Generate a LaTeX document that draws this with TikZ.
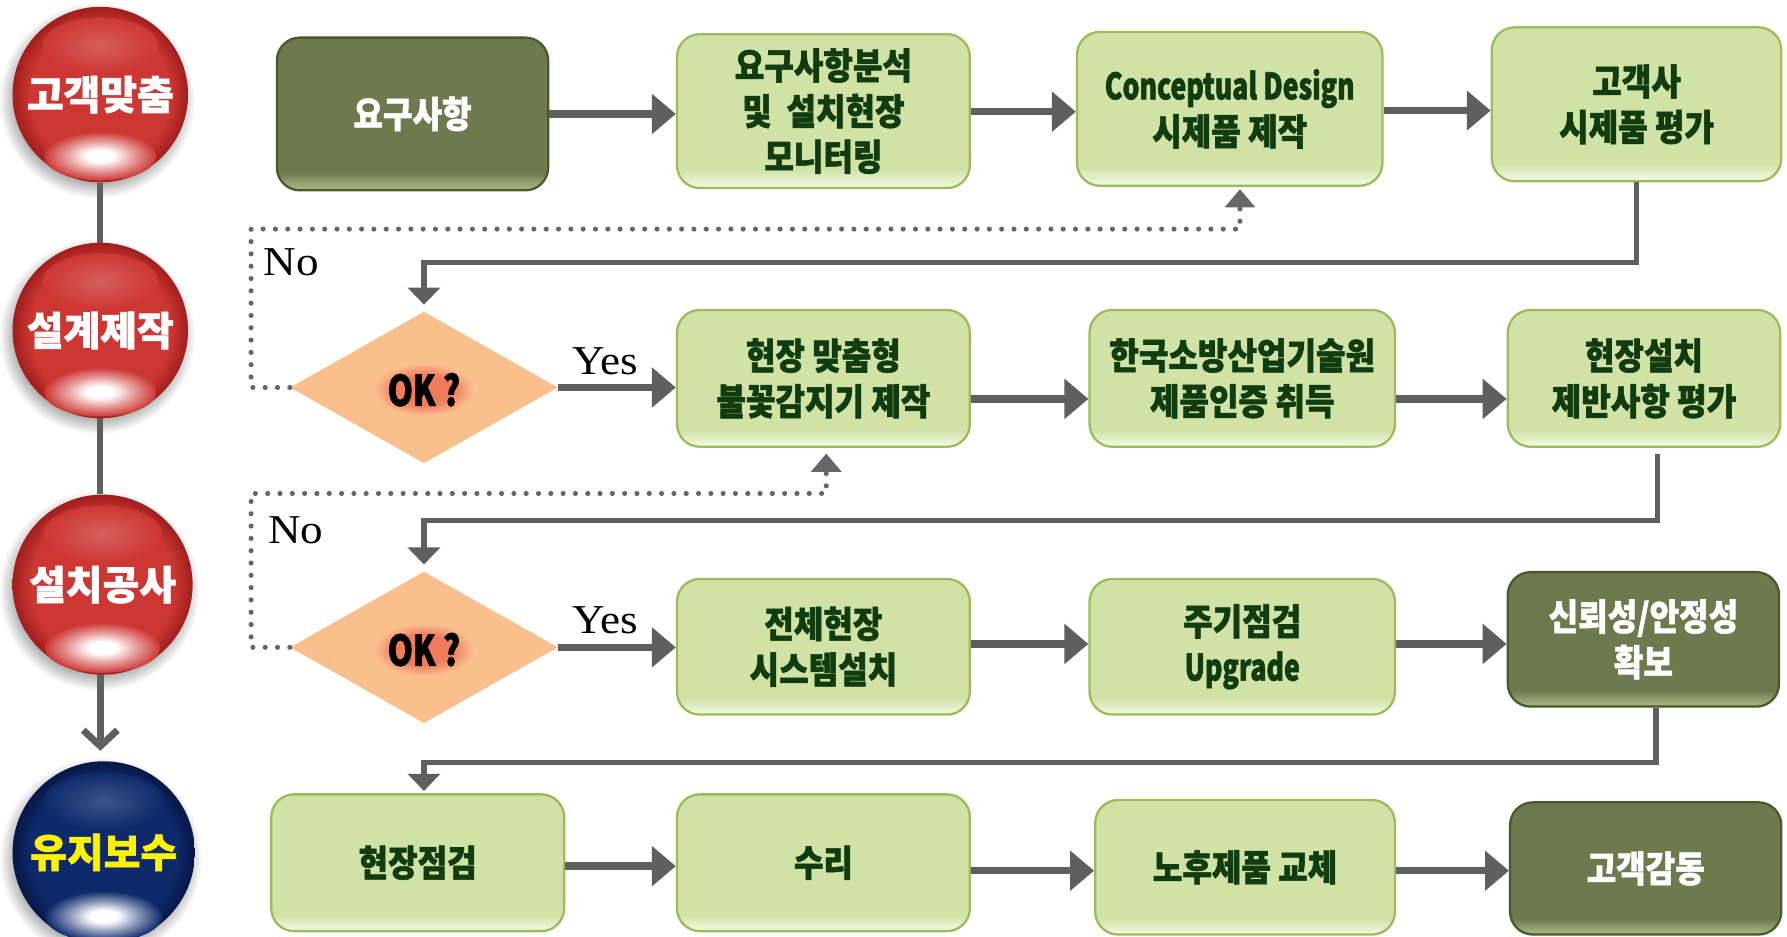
\documentclass[tikz,border=0pt]{standalone}
\usepackage{fontspec}
\usetikzlibrary{arrows.meta,shapes.geometric,calc}
\setmainfont{Liberation Serif}
\newfontfamily\ynfont{Liberation Serif}[FakeStretch=1.1]
\newfontfamily\krfont{Noto Sans CJK KR}[FakeStretch=0.88, BoldFeatures={FakeBold=1.5}]
\newfontfamily\ltfont{Noto Sans CJK KR}[FakeStretch=0.73, BoldFeatures={FakeBold=1.5}]
\newfontfamily\krwide{Noto Sans CJK KR}[BoldFeatures={FakeBold=1.5}]
\newfontfamily\okfont{Noto Sans CJK KR}[FakeStretch=0.76, BoldFeatures={FakeBold=1.5}]

\definecolor{lgM}{HTML}{D0E2A6}
\definecolor{lgB}{HTML}{EEF6DC}
\definecolor{lgE}{HTML}{9CBB5A}
\definecolor{dgM}{HTML}{6D7A4E}
\definecolor{dgB}{HTML}{A3B07D}
\definecolor{dgE}{HTML}{4C572D}
\definecolor{txtG}{HTML}{103C10}
\definecolor{arrG}{HTML}{5F5F5F}
\definecolor{dotG}{HTML}{666666}
\definecolor{peach}{HTML}{F9C08E}
\definecolor{glowS}{HTML}{EF7A5C}
\definecolor{redM}{HTML}{CD3733}
\definecolor{redD}{HTML}{A01E1C}
\definecolor{bluM}{HTML}{0E2A6C}
\definecolor{bluD}{HTML}{071746}

% note: TikZ maps a path's bounding box onto the central 50bp of a 100bp shading
\pgfdeclareverticalshading{lgshade}{100bp}{color(0bp)=(lgB); color(26bp)=(lgB); color(31bp)=(lgM); color(100bp)=(lgM)}
\pgfdeclareverticalshading{dgshade}{100bp}{color(0bp)=(dgB); color(26bp)=(dgB); color(31bp)=(dgM); color(100bp)=(dgM)}
\pgfdeclareradialshading{redball}{\pgfpointorigin}{color(0bp)=(redM); color(20bp)=(redM); color(25bp)=(redD); color(50bp)=(redD)}
\pgfdeclareradialshading{bluball}{\pgfpointorigin}{color(0bp)=(bluM); color(20bp)=(bluM); color(25bp)=(bluD); color(50bp)=(bluD)}
\pgfdeclareradialshading{redglow}{\pgfpointorigin}{color(0bp)=(white); color(6bp)=(white); color(15bp)=(redM!50!white); color(25bp)=(redM); color(50bp)=(redM)}
\pgfdeclareradialshading{bluglow}{\pgfpointorigin}{color(0bp)=(white); color(6bp)=(white); color(15bp)=(bluM!50!white); color(25bp)=(bluM); color(50bp)=(bluM)}
\pgfdeclareradialshading{redtop}{\pgfpointorigin}{color(0bp)=(redM!80!white); color(25bp)=(redM); color(50bp)=(redM)}
\pgfdeclareradialshading{blutop}{\pgfpointorigin}{color(0bp)=(bluM!80!white); color(25bp)=(bluM); color(50bp)=(bluM)}
\pgfdeclareradialshading{ballshadow}{\pgfpointorigin}{color(0bp)=(black!30); color(21bp)=(black!30); color(25bp)=(white); color(50bp)=(white)}
\pgfdeclareradialshading{okglow}{\pgfpointorigin}{color(0bp)=(glowS); color(14bp)=(glowS); color(25bp)=(peach); color(50bp)=(peach)}

\tikzset{
  lbox/.style={rectangle, rounded corners=20pt, draw=lgE, line width=2pt, shading=lgshade,
    text=txtG, font=\krfont\bfseries\fontsize{32}{40}\selectfont, align=center, inner sep=0pt},
  dbox/.style={rectangle, rounded corners=20pt, draw=dgE, line width=2pt, shading=dgshade,
    text=white, font=\krfont\bfseries\fontsize{32}{40}\selectfont, align=center, inner sep=0pt},
  arr/.style={draw=arrG, line width=6.5pt, -{Triangle[length=21pt,width=34pt]}},
  fb/.style={draw=arrG, line width=4.5pt, -{Triangle[length=15pt,width=28pt]}},
  dotln/.style={draw=dotG, line width=4.5pt, line cap=round, dash pattern=on 0pt off 10.8pt,
    -{Triangle[length=16pt,width=26pt]}},
  decide/.style={diamond, fill=peach, minimum width=235pt, minimum height=133pt, inner sep=0pt},
  oktxt/.style={font=\okfont\bfseries\fontsize{37}{37}\selectfont, inner sep=0pt, text=black},
  yn/.style={font=\ynfont\fontsize{36}{36}\selectfont, anchor=base west, inner sep=0pt},
  balltxt/.style={font=\krwide\bfseries\fontsize{35}{35}\selectfont, inner sep=0pt},
  stem/.style={draw=arrG, line width=5pt},
}

\newcommand\drawballshadow[2]{% node, radius
  \shade[shading=ballshadow] ($(#1.center)+(-3,5)$) circle (#2+9);
}
\newcommand\drawballbody[3]{% node, colour key, radius
  \shade[shading=#2ball] (#1.center) circle (#3);
  \shade[shading=#2top] ($(#1.center)+(0,-#3*0.56)$) ellipse (#3*0.66 and #3*0.32);
  \shade[shading=#2glow] ($(#1.center)+(0,#3*0.7)$) ellipse (#3*0.64 and #3*0.28);
}

\begin{document}
\begin{tikzpicture}[x=1pt,y=-1pt]
\useasboundingbox (0,0) rectangle (1568,822);

% ---------- stage balls ----------
\node[circle, minimum size=154pt, inner sep=0pt] (c1) at (88,83) {};
\node[circle, minimum size=154pt, inner sep=0pt] (c2) at (88,290) {};
\node[circle, minimum size=158pt, inner sep=0pt] (c3) at (90,513) {};
\node[circle, minimum size=160pt, inner sep=0pt] (c4) at (91,748) {};

\drawballshadow{c1}{77}
\drawballshadow{c2}{77}
\drawballshadow{c3}{79}
\drawballshadow{c4}{80}

\draw[stem] (c1.south) -- (c1.south |- c2.north);
\draw[stem] (c2.south) -- (c2.south |- c3.north);
\draw[draw=arrG, line width=6pt, line cap=round, line join=round,
      -{Straight Barb[length=14pt,width=30pt]}, shorten >=9pt]
      (c3.south -| c2.south) -- (c2.south |- c4.north);

\drawballbody{c1}{red}{77}
\drawballbody{c2}{red}{77}
\drawballbody{c3}{red}{79}
\drawballbody{c4}{blu}{80}

\node[balltxt, text=white] (t1) at (c1.center) {고객맞춤};
\node[balltxt, text=white] (t2) at (c2.center) {설계제작};
\node[balltxt, text=white] (t3) at (c3.center) {설치공사};
\node[balltxt, text=yellow] (t4) at (c4.center) {유지보수};

% ---------- row 1 ----------
\node[dbox, minimum width=238pt, minimum height=134pt] (r1a) at (362,100) {요구사항};
\node[lbox, minimum width=257pt, minimum height=135pt] (r1b) at (722.5,97.5) {요구사항분석\\및 \ 설치현장\\모니터링};
\node[lbox, minimum width=268pt, minimum height=135pt] (r1c) at (1079,95.5) {{\ltfont Conceptual Design}\\시제품 제작};
\node[lbox, minimum width=254pt, minimum height=135pt] (r1d) at (1436,91.5) {고객사\\시제품 평가};

% ---------- decisions ----------
\node[decide] (d1) at (372,340) {};
\shade[shading=okglow] (372,342) ellipse (44 and 23);
\node[oktxt] (ok1) at (372,342) {OK ?};
\node[decide] (d2) at (372,568) {};
\shade[shading=okglow] (372,570) ellipse (44 and 23);
\node[oktxt] (ok2) at (372,570) {OK ?};

% ---------- row 2 ----------
\node[lbox, minimum width=257pt, minimum height=120pt] (r2a) at (722.5,332) {현장 맞춤형\\불꽃감지기 제작};
\node[lbox, minimum width=268pt, minimum height=120pt] (r2b) at (1090,332) {한국소방산업기술원\\제품인증 취득};
\node[lbox, minimum width=239pt, minimum height=120pt] (r2c) at (1442.5,332) {현장설치\\제반사항 평가};

% ---------- row 3 ----------
\node[lbox, minimum width=257pt, minimum height=119pt] (r3a) at (722.5,567.5) {전체현장\\시스템설치};
\node[lbox, minimum width=268pt, minimum height=119pt] (r3b) at (1090,567.5) {주기점검\\{\ltfont Upgrade}};
\node[dbox, minimum width=238pt, minimum height=118pt] (r3c) at (1442,561) {신뢰성/안정성\\확보};

% ---------- row 4 ----------
\node[lbox, minimum width=257pt, minimum height=120pt] (r4a) at (366.5,757) {현장점검};
\node[lbox, minimum width=257pt, minimum height=120pt] (r4b) at (722.5,757) {수리};
\node[lbox, minimum width=263pt, minimum height=118pt] (r4c) at (1092.5,761) {노후제품 교체};
\node[dbox, minimum width=238pt, minimum height=116pt] (r4d) at (1444,762) {고객감동};

% ---------- forward arrows ----------
\draw[arr] (r1a.east |- 0,100) -- (r1b.west |- 0,100);
\draw[arr] (r1b.east |- 0,98) -- (r1c.west |- 0,98);
\draw[arr] (r1c.east |- 0,97) -- (r1d.west |- 0,97);
\draw[arr] (d1.east) -- (r2a.west |- d1.east);
\draw[arr] (r2a.east |- 0,350) -- (r2b.west |- 0,350);
\draw[arr] (r2b.east |- 0,350) -- (r2c.west |- 0,350);
\draw[arr] (d2.east) -- (r3a.west |- d2.east);
\draw[arr] (r3a.east |- 0,565) -- (r3b.west |- 0,565);
\draw[arr] (r3b.east |- 0,565) -- (r3c.west |- 0,565);
\draw[arr] (r4a.east |- 0,760) -- (r4b.west |- 0,760);
\draw[arr] (r4b.east |- 0,764) -- (r4c.west |- 0,764);
\draw[arr] (r4c.east |- 0,764) -- (r4d.west |- 0,764);

% ---------- return lines ----------
\draw[fb, shorten >=6pt] (r1d.south) -- ++(0,70.6) -| (d1.north);
\coordinate (s2) at ($(r2c.south)+(12,5)$);
\draw[fb, shorten >=6pt] (s2) -- ++(0,59) -| (d2.north);
\coordinate (s3) at ($(r3c.south)+(11,0)$);
\coordinate (e3) at ($(r4a.north)+(5.5,0)$);
\draw[fb, shorten >=2pt] (s3) -- ++(0,48) -| (e3);

% ---------- "No" dotted feedback ----------
\coordinate (u1) at ($(r1c.south)+(9,2)$);
\draw[dotln] (d1.west) -- ++(-34,0) |- (u1 |- 0,201) -- (u1);
\coordinate (u2) at ($(r2a.south)+(2.5,5)$);
\draw[dotln] (d2.west) -- ++(-34,0) |- (u2 |- 0,433) -- (u2);

% ---------- labels ----------
\node[yn] (no1) at (231,242) {No};
\node[yn] (no2) at (235,477) {No};
\node[yn] (yes1) at (502,329) {Yes};
\node[yn] (yes2) at (502,556) {Yes};
\end{tikzpicture}
\end{document}
